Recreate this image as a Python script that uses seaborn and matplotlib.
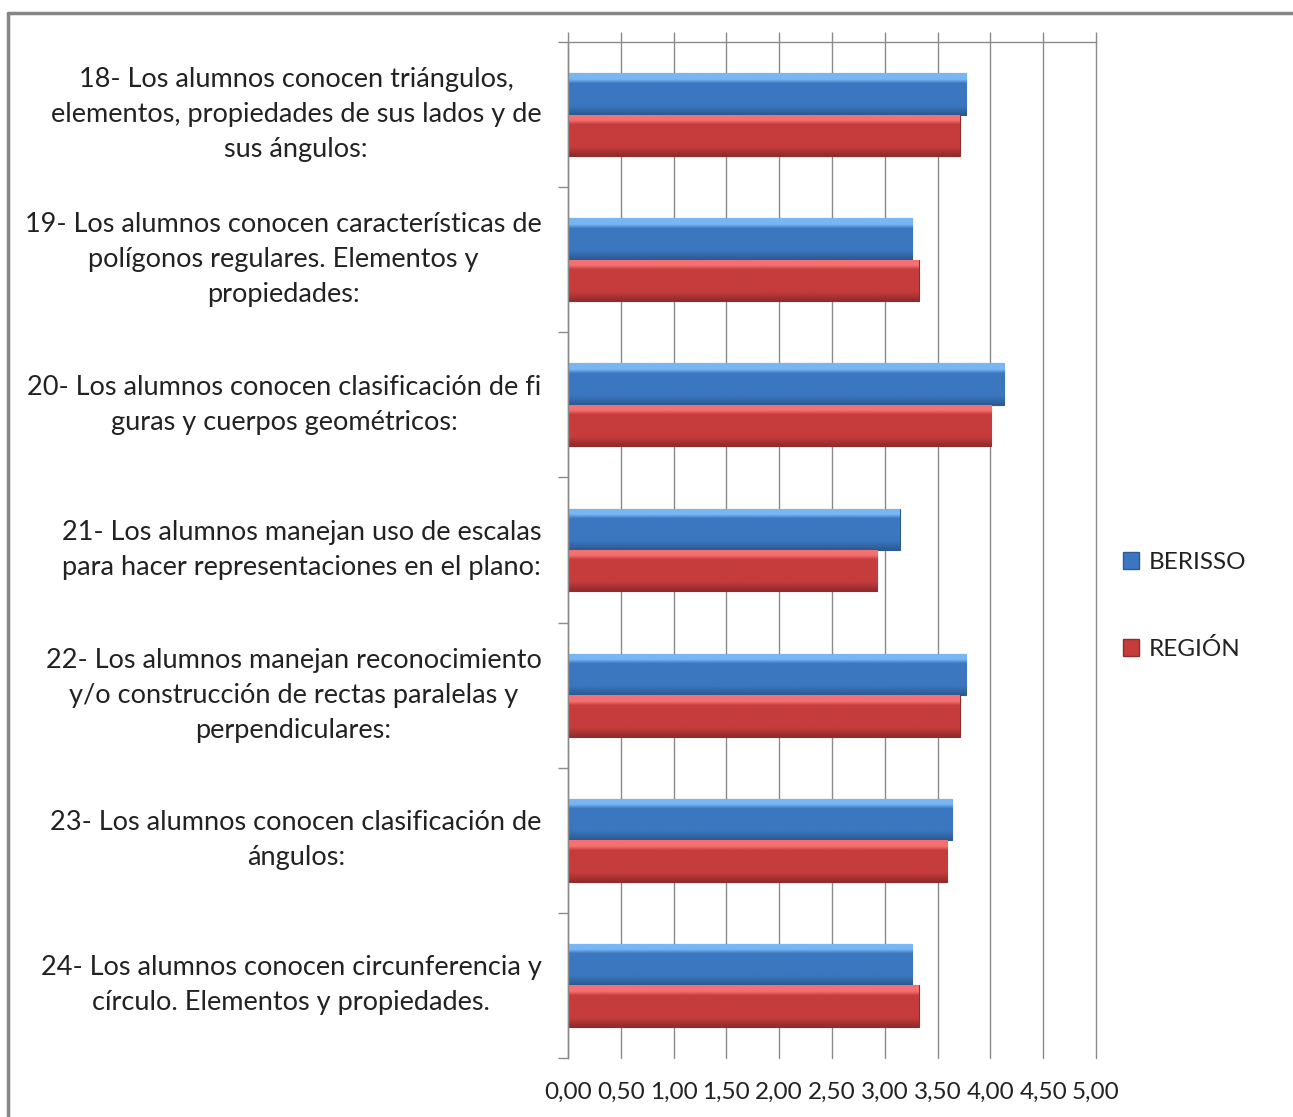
import numpy as np
import pandas as pd
import matplotlib
matplotlib.use("Agg")
import matplotlib.pyplot as plt
import seaborn as sns
from matplotlib.patches import Patch
from matplotlib.colors import LinearSegmentedColormap
from matplotlib.lines import Line2D

categories = [
    "18- Los alumnos conocen triángulos,\nelementos, propiedades de sus lados y de\nsus ángulos:",
    "19- Los alumnos conocen características de\npolígonos regulares. Elementos y\npropiedades:",
    "20- Los alumnos conocen clasificación de fi\nguras y cuerpos geométricos:",
    "21- Los alumnos manejan uso de escalas\npara hacer representaciones en el plano:",
    "22- Los alumnos manejan reconocimiento\ny/o construcción de rectas paralelas y\nperpendiculares:",
    "23- Los alumnos conocen clasificación de\nángulos:",
    "24- Los alumnos conocen circunferencia y\ncírculo. Elementos y propiedades.",
]
berisso = [3.77, 3.26, 4.13, 3.14, 3.77, 3.64, 3.26]
region = [3.71, 3.32, 4.01, 2.93, 3.71, 3.59, 3.32]
series_names = ["BERISSO", "REGIÓN"]
x_ticks = [0.0, 0.5, 1.0, 1.5, 2.0, 2.5, 3.0, 3.5, 4.0, 4.5, 5.0]
x_tick_labels = ["0,00", "0,50", "1,00", "1,50", "2,00", "2,50", "3,00", "3,50", "4,00", "4,50", "5,00"]

colors = {"BERISSO": "#3B77C0", "REGIÓN": "#C63C3C"}
light = {"BERISSO": "#78B6F4", "REGIÓN": "#F57070"}
dark = {"BERISSO": "#2C5A92", "REGIÓN": "#922B2B"}

df = pd.DataFrame({
    "cat": categories * 2,
    "val": berisso + region,
    "serie": [series_names[0]] * len(categories) + [series_names[1]] * len(categories),
})

sns.set_style("white")
plt.rcParams["font.family"] = ["Lato", "DejaVu Sans"]

W, H = 1293, 1117
fig = plt.figure(figsize=(W / 100, H / 100), dpi=100)
ax = fig.add_axes([568 / W, 1 - 1058 / H, (1096 - 568) / W, (1058 - 42) / H])

sns.barplot(data=df, x="val", y="cat", hue="serie", orient="h", order=categories,
            hue_order=series_names, palette=colors, width=0.57, ax=ax, legend=False,
            saturation=1, edgecolor="none", linewidth=0)

# Beveled look derived from the drawn bars
n = len(categories)
for i, p in enumerate(ax.patches):
    name = series_names[i // n]
    x0, y0 = p.get_x(), p.get_y()
    w, h = p.get_width(), p.get_height()
    cmap = LinearSegmentedColormap.from_list(
        "g", [(0.0, light[name]), (0.14, light[name]), (0.24, colors[name]),
              (0.78, colors[name]), (1.0, dark[name])])
    grad = np.linspace(0, 1, 64).reshape(-1, 1)
    im = ax.imshow(grad, cmap=cmap, aspect="auto", extent=(x0, x0 + w, y0 + h, y0),
                   origin="upper", interpolation="bilinear", zorder=2)
    im.set_clip_path(p)
    p.set_edgecolor(dark[name])
    p.set_linewidth(0.8)
    p.set_zorder(2)

ax.set_xlim(0, 5.0)
ax.set_ylim(n - 0.5, -0.5)
ax.set_aspect("auto")
ax.set_xticks(x_ticks)
ax.set_xticklabels(x_tick_labels, fontsize=17.5, color="#222222")
ax.set_xlabel("")
ax.set_ylabel("")

ax.grid(axis="x", color="#8A8A8A", linewidth=1.0)
for gl in ax.get_xgridlines():
    gl.set_clip_on(False)
ax.set_axisbelow(True)
for s in ["bottom", "right"]:
    ax.spines[s].set_visible(False)
for s in ["top", "left"]:
    ax.spines[s].set_visible(True)
    ax.spines[s].set_color("#8A8A8A")
    ax.spines[s].set_linewidth(1.0)

ax.tick_params(axis="x", top=True, bottom=False, labeltop=False, labelbottom=True,
               length=7, width=1.0, color="#8A8A8A", direction="out", pad=10)
ax.set_yticks(range(n))
ax.set_yticklabels(categories, fontsize=19.5, color="#222222", ha="right", va="center",
                   multialignment="center", linespacing=1.5)
ax.tick_params(axis="y", which="major", length=0, pad=19)
ax.set_yticks(np.arange(-0.5, n, 1.0), minor=True)
ax.tick_params(axis="y", which="minor", length=7, width=1.0, color="#8A8A8A", direction="out", left=True)

handles = [Patch(facecolor=colors[s], edgecolor=dark[s], label=s) for s in series_names]
fig.legend(handles=handles, loc="center left", bbox_to_anchor=(1101 / W, 1 - 606 / H),
           frameon=False, fontsize=17.5, labelspacing=2.68, handlelength=0.65,
           handleheight=0.65, handletextpad=0.4, labelcolor="#222222")

# Outer chart frame
fig.add_artist(Line2D([8 / W, 8 / W], [1 - 13 / H, 0], transform=fig.transFigure,
                      color="#868686", linewidth=2.5))
fig.add_artist(Line2D([8 / W, 1], [1 - 13 / H, 1 - 13 / H], transform=fig.transFigure,
                      color="#868686", linewidth=2.5))

fig.savefig("out.png", dpi=100, facecolor="white")
